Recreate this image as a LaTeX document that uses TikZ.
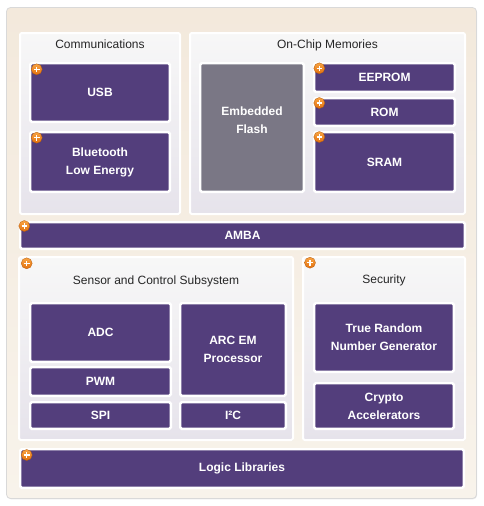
\documentclass[tikz,border=0pt]{standalone}
\usepackage{fontspec}
\setmainfont{Liberation Sans}
\usetikzlibrary{shadows}
\definecolor{pur}{HTML}{533E7C}
\definecolor{flashgray}{HTML}{7A7785}
\definecolor{badgeA}{HTML}{F9A443}
\definecolor{badgeB}{HTML}{E2700E}
\tikzset{
  frame/.style={draw=black!15, line width=0.8pt, rounded corners=4pt,
    top color=white!100!black, bottom color=white,
    drop shadow={shadow xshift=0.6pt, shadow yshift=-0.8pt, opacity=0.18}},
  panel/.style={draw=white, line width=2pt, rounded corners=2pt,
    top color=black!3!white, bottom color={rgb,255:red,230;green,227;blue,235},
    inner sep=0pt,
    drop shadow={shadow xshift=0.5pt, shadow yshift=-0.8pt, opacity=0.2}},
  pbox/.style={draw=white, line width=2.4pt, rounded corners=1.5pt, fill=pur,
    text=white, font=\fontsize{12}{18}\selectfont\bfseries, align=center, inner sep=0pt,
    drop shadow={shadow xshift=0.4pt, shadow yshift=-0.7pt, opacity=0.25}},
  gbox/.style={pbox, fill=flashgray},
  ptitle/.style={font=\fontsize{12}{14}\selectfont, text=black!85, anchor=base, inner sep=0pt},
  badge/.style={circle, minimum size=11pt, inner sep=0pt, top color=badgeA, bottom color=badgeB,
    draw=badgeB!80!black, line width=0.3pt,
    path picture={\draw[white, line width=1.3pt]
      ([xshift=-2.8pt]path picture bounding box.center) -- ([xshift=2.8pt]path picture bounding box.center)
      ([yshift=-2.8pt]path picture bounding box.center) -- ([yshift=2.8pt]path picture bounding box.center);}}
}
\newcommand\mkbox[7]{\node[#6, minimum width={#4-#2-2.4}, minimum height={#5-#3-2.4}] (#1) at ({(#2+#4)/2},{(#3+#5)/2}) {#7};}
\newcommand\mkpanel[5]{\node[panel, minimum width={#4-#2-2}, minimum height={#5-#3-2}] (#1) at ({(#2+#4)/2},{(#3+#5)/2}) {};}
\begin{document}
\begin{tikzpicture}[x=1pt,y=-1pt]
\useasboundingbox (0,0) rectangle (483,506);
% outer frame
\node[frame, top color={rgb,255:red,243;green,233;blue,220}, bottom color={rgb,255:red,248;green,243;blue,235},
  minimum width=470pt, minimum height=491pt, inner sep=0pt] (outer) at (241.5,253) {};
% panels
\mkpanel{comm}{19}{32}{181}{215}
\mkpanel{mem}{189}{32}{466}{215}
\mkpanel{sensor}{18}{256}{294}{441}
\mkpanel{secu}{302}{256}{466}{441}
% titles
\node[ptitle] (tcomm) at (100,48) {Communications};
\node[ptitle] (tmem) at (327.5,48) {On-Chip Memories};
\node[ptitle] (tsensor) at (156,284.5) {Sensor and Control Subsystem};
\node[ptitle] (tsecu) at (384,283.5) {Security};
% blocks
\mkbox{usb}{29}{62}{171}{123}{pbox}{USB}
\mkbox{ble}{29}{131}{171}{193}{pbox}{Bluetooth\\Low Energy}
\mkbox{flash}{199}{62}{305}{193}{gbox, text depth=14pt}{Embedded\\Flash}
\mkbox{eeprom}{313}{62}{456}{93}{pbox}{EEPROM}
\mkbox{rom}{313}{97}{456}{127}{pbox}{ROM}
\mkbox{sram}{313}{131}{456}{193}{pbox}{SRAM}
\mkbox{amba}{19}{221}{466}{250}{pbox}{AMBA}
\mkbox{adc}{29}{302}{172}{363}{pbox}{ADC}
\mkbox{pwm}{29}{366}{172}{397}{pbox}{PWM}
\mkbox{spi}{29}{401}{172}{430}{pbox}{SPI}
\mkbox{arc}{179}{302}{287}{397}{pbox}{ARC EM\\Processor}
\mkbox{itwoc}{179}{401}{287}{430}{pbox}{I²C}
\mkbox{trng}{313}{302}{455}{373}{pbox}{True Random\\Number Generator}
\mkbox{crypto}{313}{382}{455}{430}{pbox}{Crypto\\Accelerators}
\mkbox{logic}{19}{448}{465}{489}{pbox}{Logic Libraries}
% badges
\node[badge] (b1) at (36.7,69.3) {};
\node[badge] (b2) at (36.7,137.7) {};
\node[badge] (b3) at (319.3,68.3) {};
\node[badge] (b4) at (319.3,103) {};
\node[badge] (b5) at (319.3,137) {};
\node[badge] (b6) at (24.3,226) {};
\node[badge] (b7) at (26.7,263.3) {};
\node[badge] (b8) at (310,262.7) {};
\node[badge] (b9) at (26.7,455) {};
\end{tikzpicture}
\end{document}
